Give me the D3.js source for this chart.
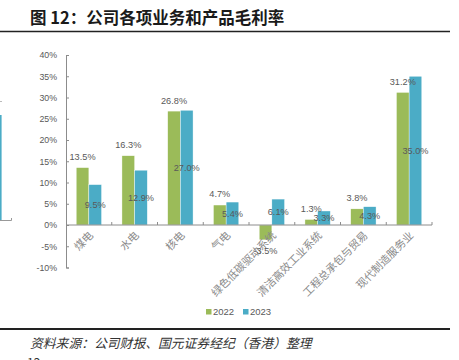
<!DOCTYPE html>
<html><head><meta charset="utf-8">
<script src="https://cdn.jsdelivr.net/npm/d3@7/dist/d3.min.js"></script>
<style>
html,body{margin:0;padding:0;background:#fff;}
svg{display:block;}
</style></head>
<body>
<svg id="c" width="459" height="360"></svg>
<script>
const categories = ["煤电","水电","核电","气电","绿色低碳驱动系统","清洁高效工业系统","工程总承包与贸易","现代制造服务业"];
const seriesNames = ["2022","2023"];
const values2022 = [13.5,16.3,26.8,4.7,-3.5,1.3,3.8,31.2];
const values2023 = [9.5,12.9,27.0,5.4,6.1,3.3,4.3,35.0];
const yTicks = [-10,-5,0,5,10,15,20,25,30,35,40];
const colors = ["#9BBB59","#4BACC6"];
const title = "图 12：公司各项业务和产品毛利率";
const source = "资料来源：公司财报、国元证券经纪（香港）整理";

const svg = d3.select("#c");
const fontLat = "'Liberation Sans', Arial, sans-serif";
const fontCJK = "'Noto Sans CJK SC', sans-serif";

// header
svg.append("text").attr("x",30).attr("y",24).attr("font-family",fontCJK)
  .attr("font-weight","bold").attr("font-size",16.5).attr("fill","#1a1a1a").text(title);
svg.append("line").attr("x1",0).attr("x2",450).attr("y1",31.5).attr("y2",31.5)
  .attr("stroke","#222").attr("stroke-width",1.5);

// residue of neighbouring chart at the left edge
svg.append("line").attr("x1",0.8).attr("x2",0.8).attr("y1",115).attr("y2",220)
  .attr("stroke","#4BACC6").attr("stroke-width",1.6);
svg.append("path").attr("d","M0,220.5H11.5V218").attr("fill","none").attr("stroke","#999").attr("stroke-width",1);
svg.append("line").attr("x1",0).attr("x2",2).attr("y1",101.5).attr("y2",101.5).attr("stroke","#bbb");

const left = 66, right = 432;
const y = d3.scaleLinear().domain([-10,40]).range([267.5,55]);
const x0 = d3.scaleBand().domain(categories).range([left,right]).padding(0);
const bw = x0.bandwidth();
const x1 = d3.scaleBand().domain(seriesNames).range([10.2, bw-10.2]).padding(0);

// y axis
const yAxis = d3.axisLeft(y).tickValues(yTicks).tickSize(-3).tickPadding(9)
  .tickFormat(d => d + "%");
const ga = svg.append("g").attr("transform",`translate(${left},0)`).call(yAxis);
ga.select(".domain").attr("stroke","#8c8c8c");
ga.selectAll(".tick line").attr("stroke","#8c8c8c");
ga.selectAll(".tick text").attr("font-family",fontLat).attr("font-size",8.8).attr("fill","#595959");

// bars
const data = categories.map((c,i)=>({c, v:[values2022[i], values2023[i]]}));
const g = svg.append("g");
seriesNames.forEach((s,si)=>{
  g.selectAll(".bar"+si).data(data).enter().append("rect")
    .attr("x", d=>x0(d.c)+x1(s))
    .attr("width", x1.bandwidth())
    .attr("y", d=>y(Math.max(0,d.v[si])))
    .attr("height", d=>Math.abs(y(d.v[si])-y(0)))
    .attr("fill", colors[si])
    .attr("stroke","#ffffff").attr("stroke-width",0.4);
});

// x axis (zero line) with upward ticks at category boundaries
svg.append("line").attr("x1",left).attr("x2",right).attr("y1",y(0)).attr("y2",y(0))
  .attr("stroke","#8c8c8c").attr("stroke-width",1);
const bounds = categories.map(c=>x0(c)+bw);
svg.selectAll(".xt").data(bounds).enter().append("line")
  .attr("x1",d=>d).attr("x2",d=>d).attr("y1",y(0)).attr("y2",y(0)-3)
  .attr("stroke","#8c8c8c");

// x labels rotated
svg.selectAll(".xl").data(categories).enter().append("text")
  .attr("transform", c=>`translate(${x0(c)+bw/2+3},${y(0)+9}) rotate(-45)`)
  .attr("text-anchor","end").attr("dominant-baseline","middle")
  .attr("font-family",fontCJK).attr("font-size",10.8).attr("fill","#8a8a8a")
  .text(c=>c);

// data labels
const fmt = v => v.toFixed(1) + "%";
// 2022: outside end
svg.selectAll(".l0").data(data).enter().append("text")
  .attr("x", d=>x0(d.c)+x1("2022")+x1.bandwidth()/2)
  .attr("y", d=> d.v[0]>=0 ? y(d.v[0])-10 : y(d.v[0])+12)
  .attr("text-anchor","middle").attr("dominant-baseline","middle")
  .attr("font-family",fontLat).attr("font-size",9.2).attr("fill","#595959")
  .text(d=>fmt(d.v[0]));
// 2023: centered in bar
svg.selectAll(".l1").data(data).enter().append("text")
  .attr("x", d=>x0(d.c)+x1("2023")+x1.bandwidth()/2)
  .attr("y", d=> (y(d.v[1])+y(0))/2 + 1)
  .attr("text-anchor","middle").attr("dominant-baseline","middle")
  .attr("font-family",fontLat).attr("font-size",9.2).attr("fill","#595959")
  .text(d=>fmt(d.v[1]));

// legend
const lx = [206, 243];
seriesNames.forEach((s,i)=>{
  svg.append("rect").attr("x",lx[i]).attr("y",309).attr("width",5.5).attr("height",5.5).attr("fill",colors[i]);
  svg.append("text").attr("x",lx[i]+7).attr("y",312).attr("dominant-baseline","middle")
    .attr("font-family",fontLat).attr("font-size",9.5).attr("fill","#595959").text(s);
});

// footer
svg.append("line").attr("x1",0).attr("x2",450).attr("y1",329).attr("y2",329)
  .attr("stroke","#222").attr("stroke-width",1.8);
svg.append("text").attr("x",30).attr("y",348).attr("font-family",fontCJK)
  .attr("font-style","italic").attr("font-size",12.8).attr("fill","#333").text(source);
svg.append("text").attr("x",27).attr("y",367).attr("font-family",fontCJK)
  .attr("font-size",12).attr("fill","#333").text("12");
</script>
</body></html>
